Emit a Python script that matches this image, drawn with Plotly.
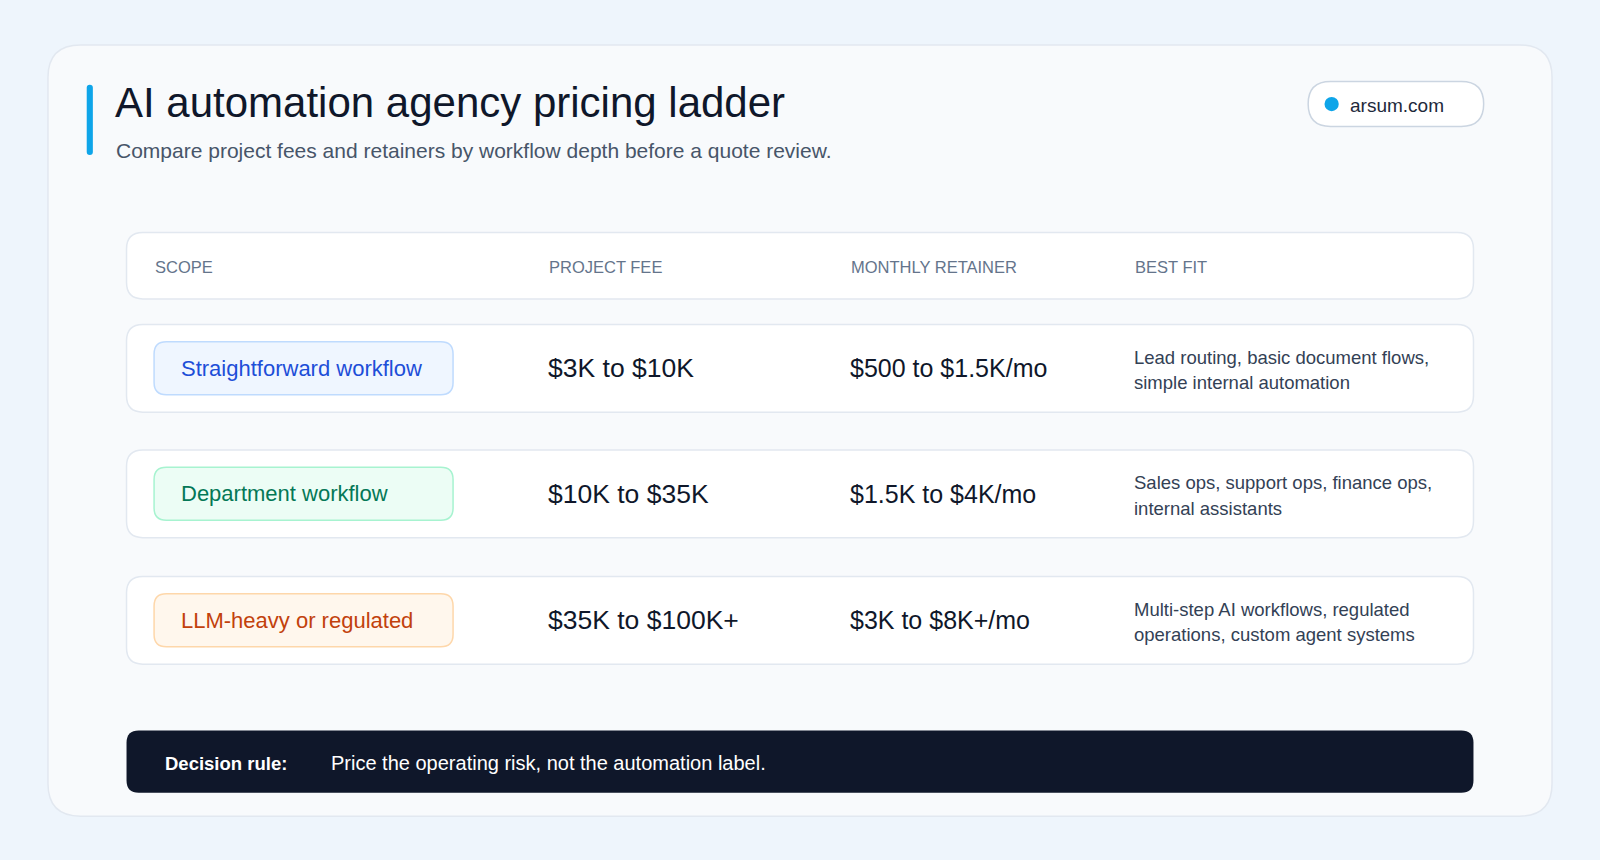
import plotly.graph_objects as go

title = "AI automation agency pricing ladder"
subtitle = "Compare project fees and retainers by workflow depth before a quote review."
badge = "arsum.com"
headers = ["SCOPE", "PROJECT FEE", "MONTHLY RETAINER", "BEST FIT"]
scopes = ["Straightforward workflow", "Department workflow", "LLM-heavy or regulated"]
project_fees = ["$3K to $10K", "$10K to $35K", "$35K to $100K+"]
retainers = ["$500 to $1.5K/mo", "$1.5K to $4K/mo", "$3K to $8K+/mo"]
best_fit = [["Lead routing, basic document flows,", "simple internal automation"],
            ["Sales ops, support ops, finance ops,", "internal assistants"],
            ["Multi-step AI workflows, regulated", "operations, custom agent systems"]]
rule_label = "Decision rule:"
rule_text = "Price the operating risk, not the automation label."

pill_styles = [("#EFF6FF", "#BFDBFE", "#1D4ED8"),
               ("#ECFDF5", "#A7F3D0", "#047857"),
               ("#FFF7ED", "#FED7AA", "#C2410C")]

FONT = "Liberation Sans, Arial, sans-serif"
W, H = 1568, 843

def rr(x0, y0, x1, y1, r):
    return (f"M{x0+r},{y0} L{x1-r},{y0} Q{x1},{y0} {x1},{y0+r} L{x1},{y1-r} Q{x1},{y1} {x1-r},{y1} "
            f"L{x0+r},{y1} Q{x0},{y1} {x0},{y1-r} L{x0},{y0+r} Q{x0},{y0} {x0+r},{y0} Z")

shapes, ann = [], []
def box(x0, y0, x1, y1, r, fill, line, lw=1.5):
    shapes.append(dict(type="path", path=rr(x0, y0, x1, y1, r), fillcolor=fill,
                       line=dict(color=line, width=lw), xref="x", yref="y", layer="below"))
def txt(x, y, s, size, color, bold=False, anchor="left"):
    ann.append(dict(x=x, y=y, xref="x", yref="y", text=f"<b>{s}</b>" if bold else s,
                    showarrow=False, xanchor=anchor, yanchor="middle",
                    font=dict(family=FONT, size=size, color=color)))

box(47, 44, 1521, 800, 32, "#F8FAFC", "#E2E8F0")
box(85, 83, 91, 152, 3, "#0EA5E9", "#0EA5E9", 0)
txt(111, 100, title, 42, "#0F172A")
txt(112, 148, subtitle, 21, "#475569")
box(1282, 80, 1454, 124, 22, "#FFFFFF", "#CBD5E1")
shapes.append(dict(type="circle", x0=1298, x1=1312, y0=95, y1=109, fillcolor="#0EA5E9",
                   line=dict(width=0), xref="x", yref="y"))
txt(1321, 103, badge, 19, "#1E293B")

cols = [151, 537, 833, 1111]
box(124, 228, 1444, 293, 16, "#FFFFFF", "#E2E8F0")
for c, h in zip(cols, headers):
    txt(c - 1, 262, h, 16.5, "#64748B")

row_tops = [318, 441, 565]
for i, top in enumerate(row_tops):
    cy = top + 43
    box(124, top, 1444, top + 86, 16, "#FFFFFF", "#E2E8F0")
    bg, bd, tc = pill_styles[i]
    box(151, cy - 26, 444, cy + 26, 12, bg, bd)
    txt(175, cy, scopes[i], 22, tc)
    txt(535, cy, project_fees[i], 26.5, "#0F172A")
    txt(831, cy, retainers[i], 25, "#0F172A")
    txt(1109, cy - 11, best_fit[i][0], 18.5, "#334155")
    txt(1109, cy + 14, best_fit[i][1], 18.5, "#334155")

box(124, 716, 1444, 777, 12, "#0F172A", "#0F172A", 0)
txt(160, 748, rule_label, 18.5, "#FFFFFF", bold=True)
txt(322, 748, rule_text, 20, "#FFFFFF")

fig = go.Figure()
fig.update_layout(width=1600, height=860, margin=dict(l=0, r=0, t=0, b=0),
                  paper_bgcolor="#EEF5FC", plot_bgcolor="#EEF5FC",
                  xaxis=dict(range=[0, W], visible=False, fixedrange=True),
                  yaxis=dict(range=[H, 0], visible=False, fixedrange=True),
                  shapes=shapes, annotations=ann, showlegend=False)
fig.write_html("out.html", config={"displayModeBar": False},
               post_script="document.body.style.margin='0';document.body.style.background='#EEF5FC';")
